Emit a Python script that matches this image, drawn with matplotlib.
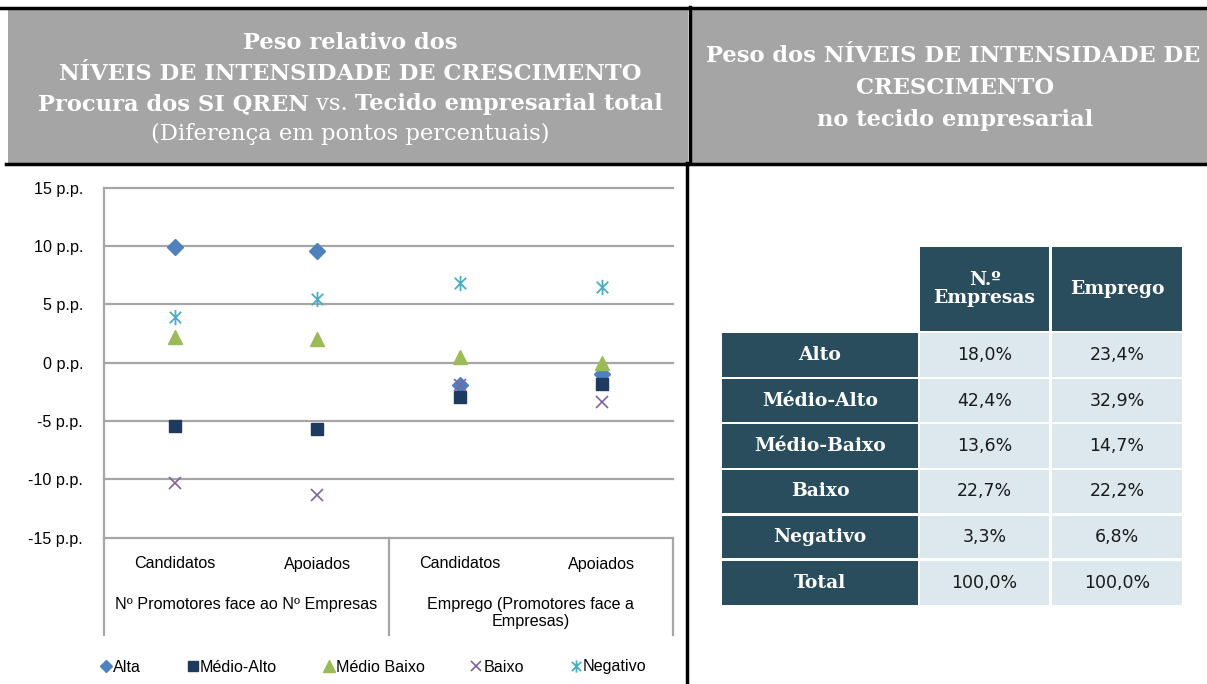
import matplotlib
matplotlib.use("Agg")
import matplotlib.pyplot as plt
from matplotlib.patches import Rectangle
from matplotlib.lines import Line2D
from matplotlib.path import Path

W, H = 1207, 684

categories = ["Candidatos", "Apoiados", "Candidatos", "Apoiados"]
groups = ["Nº Promotores face ao Nº Empresas", "Emprego (Promotores face a\nEmpresas)"]
yticks = [15, 10, 5, 0, -5, -10, -15]
ytick_labels = ["15 p.p.", "10 p.p.", "5 p.p.", "0 p.p.", "-5 p.p.", "-10 p.p.", "-15 p.p."]

series_names = ["Alta", "Médio-Alto", "Médio Baixo", "Baixo", "Negativo"]
alta = [9.9, 9.6, -1.9, -1.0]
medio_alto = [-5.4, -5.7, -2.9, -1.8]
medio_baixo = [2.2, 2.0, 0.5, 0.0]
baixo = [-10.3, -11.3, -1.9, -3.4]
negativo = [3.9, 5.5, 6.8, 6.5]

table_rows = ["Alto", "Médio-Alto", "Médio-Baixo", "Baixo", "Negativo", "Total"]
table_cols = ["N.º\nEmpresas", "Emprego"]
empresas = ["18,0%", "42,4%", "13,6%", "22,7%", "3,3%", "100,0%"]
emprego = ["23,4%", "32,9%", "14,7%", "22,2%", "6,8%", "100,0%"]

fig = plt.figure(figsize=(W / 100, H / 100), dpi=100)


def fx(px):
    return px / W


def fy(py):
    return 1 - py / H


def frect(x0, y0, x1, y1):
    return (fx(x0), fy(y1), fx(x1) - fx(x0), fy(y0) - fy(y1))


# ---------- headers ----------
grey = "#A5A5A5"
fig.patches.append(Rectangle((fx(8), fy(163)), fx(688) - fx(8), fy(9) - fy(163),
                             transform=fig.transFigure, facecolor=grey, edgecolor="none"))
fig.patches.append(Rectangle((fx(692), fy(163)), fx(1207) - fx(692), fy(9) - fy(163),
                             transform=fig.transFigure, facecolor=grey, edgecolor="none"))
fig.add_artist(Line2D([0, 1], [fy(7.5), fy(7.5)], transform=fig.transFigure, color="black", lw=2.5))
fig.add_artist(Line2D([fx(6), 1], [fy(163.5), fy(163.5)], transform=fig.transFigure, color="black", lw=2.5))
fig.add_artist(Line2D([fx(690), fx(690)], [fy(7), fy(163)], transform=fig.transFigure, color="black", lw=2.5))
fig.add_artist(Line2D([fx(687), fx(687)], [fy(163), fy(684)], transform=fig.transFigure, color="black", lw=2.5))

serif = ["DejaVu Serif"]
hs = 16.3
fig.text(fx(350), fy(43), "Peso relativo dos", ha="center", va="center", color="white",
         fontsize=hs, family=serif, fontweight="bold")
fig.text(fx(350), fy(74), "NÍVEIS DE INTENSIDADE DE CRESCIMENTO", ha="center", va="center", color="white",
         fontsize=hs, family=serif, fontweight="bold")
fig.text(fx(350), fy(134), "(Diferença em pontos percentuais)", ha="center", va="center", color="white",
         fontsize=hs, family=serif)

# third line: bold pieces with regular "vs."
renderer = fig.canvas.get_renderer()
pieces = [("Procura dos SI QREN", "bold"), ("vs.", "normal"), ("Tecido empresarial total", "bold")]
tmp = []
for s, wgt in pieces:
    t = fig.text(0, 0, s, fontsize=hs, family=serif, fontweight=wgt)
    tmp.append(t.get_window_extent(renderer).width)
    t.remove()
sp = 0.318 * hs * 100 / 72
total = sum(tmp) + sp * (len(pieces) - 1)
xc = 350 - total / 2
for (s, wgt), wpx in zip(pieces, tmp):
    fig.text(fx(xc), fy(104), s, ha="left", va="center", color="white", fontsize=hs, family=serif,
             fontweight=wgt)
    xc += wpx + sp

rs = 16.3
fig.text(fx(953), fy(56), "Peso dos NÍVEIS DE INTENSIDADE DE", ha="center", va="center", color="white",
         fontsize=rs, family=serif, fontweight="bold")
fig.text(fx(955), fy(88), "CRESCIMENTO", ha="center", va="center", color="white",
         fontsize=rs, family=serif, fontweight="bold")
fig.text(fx(955), fy(120), "no tecido empresarial", ha="center", va="center", color="white",
         fontsize=rs, family=serif, fontweight="bold")

# ---------- chart ----------
sans = ["Liberation Sans", "DejaVu Sans"]
fs = 11.6
ax = fig.add_axes(frect(104, 187.7, 673, 537.7))
x = list(range(len(categories)))

star = Path([(0, -1), (0, 1), (-0.75, -0.75), (0.75, 0.75), (-0.75, 0.75), (0.75, -0.75)],
            [Path.MOVETO, Path.LINETO, Path.MOVETO, Path.LINETO, Path.MOVETO, Path.LINETO])

styles = [
    (alta, "D", "#4F81BD", 8, dict()),
    (medio_alto, "s", "#1F3A5F", 8.5, dict()),
    (medio_baixo, "^", "#9BBB59", 10, dict()),
    (baixo, "x", "#8064A2", 9, dict(markeredgewidth=1.2)),
    (negativo, star, "#4BACC6", 11, dict(markeredgewidth=1.3)),
]
handles = []
for (vals, m, c, ms, kw), name in zip(styles, series_names):
    h, = ax.plot(x, vals, linestyle="none", marker=m, color=c, markersize=ms,
                 markeredgecolor=c, label=name, zorder=3, **kw)
    handles.append(h)

ax.set_xlim(-0.5, len(categories) - 0.5)
ax.set_ylim(-15, 15)
ax.set_yticks(yticks)
ax.set_yticklabels(ytick_labels, family=sans, fontsize=fs)
ax.tick_params(axis="y", length=0, pad=15)
ax.set_xticks([])
for yt in yticks:
    ax.axhline(yt, color="#A6A6A6", linewidth=1.6, clip_on=False, zorder=1)
for s in ["top", "right", "bottom"]:
    ax.spines[s].set_visible(False)
ax.spines["left"].set_color("#A6A6A6")
ax.spines["left"].set_linewidth(1.6)

trans = ax.get_xaxis_transform()
ph = 537.7 - 187.7


def ay(py):
    return (537.7 - py) / ph


for xi, lab in zip(x, categories):
    ax.text(xi, ay(564), lab, transform=trans, ha="center", va="center", family=sans, fontsize=fs)
ax.text(0.5, ay(604), groups[0], transform=trans, ha="center", va="center", family=sans, fontsize=fs)
ax.text(2.5, ay(613), groups[1], transform=trans, ha="center", va="center", family=sans, fontsize=fs,
        linespacing=1.15)
for xs in [-0.5, 1.5, 3.5]:
    ax.plot([xs, xs], [0, ay(635)], transform=trans, color="#A6A6A6", lw=1.6, clip_on=False)

leg = fig.legend(handles=handles, loc="center", bbox_to_anchor=(fx(374), fy(667)), ncol=5,
                 frameon=False, prop={"family": sans, "size": fs}, handlelength=0.55,
                 handletextpad=0.15, columnspacing=2.95, markerscale=0.8)

# ---------- table ----------
dark = "#294D5D"
light = "#DCE7EE"
col_x = [(722, 918), (920, 1049), (1052, 1182)]
row_y = [(333, 377), (379, 422), (424, 468), (470, 513), (516, 558), (561, 605)]
head_y = (247, 331)
for (x0, x1), lab in zip(col_x[1:], table_cols):
    fig.patches.append(Rectangle((fx(x0), fy(head_y[1])), fx(x1) - fx(x0), fy(head_y[0]) - fy(head_y[1]),
                                 transform=fig.transFigure, facecolor=dark, edgecolor="none"))
    fig.text(fx((x0 + x1) / 2), fy((head_y[0] + head_y[1]) / 2), lab, ha="center", va="center",
             color="white", fontsize=13.5, family=serif, fontweight="bold", linespacing=1.05)
for (y0, y1), lab, v1, v2 in zip(row_y, table_rows, empresas, emprego):
    for i, ((x0, x1), txt) in enumerate(zip(col_x, [lab, v1, v2])):
        fc = dark if i == 0 else light
        fig.patches.append(Rectangle((fx(x0), fy(y1)), fx(x1) - fx(x0), fy(y0) - fy(y1),
                                     transform=fig.transFigure, facecolor=fc, edgecolor="none"))
        if i == 0:
            fig.text(fx((x0 + x1) / 2), fy((y0 + y1) / 2), txt, ha="center", va="center", color="white",
                     fontsize=13.5, family=serif, fontweight="bold")
        else:
            fig.text(fx((x0 + x1) / 2), fy((y0 + y1) / 2), txt, ha="center", va="center", color="#1A1A1A",
                     fontsize=12.5, family=["DejaVu Sans"])

fig.savefig("out.png", dpi=100)
